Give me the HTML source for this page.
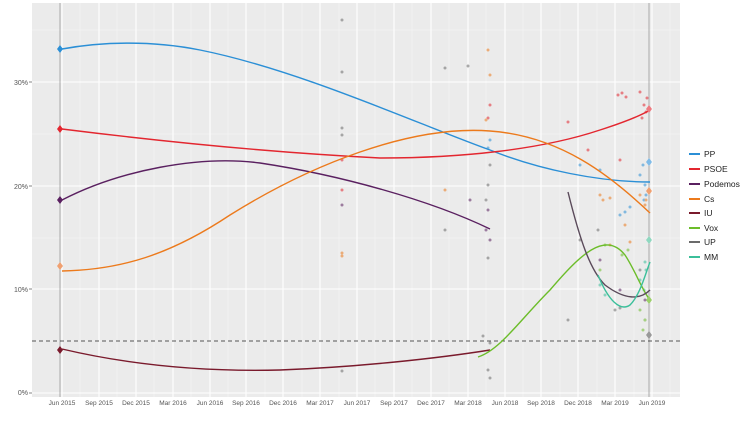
<!DOCTYPE html>
<html><head><meta charset="utf-8"><style>
body{margin:0;background:#fff;font-family:"Liberation Sans",sans-serif}
</style></head><body>
<svg width="750" height="417" viewBox="0 0 750 417" xmlns="http://www.w3.org/2000/svg" font-family="Liberation Sans, sans-serif">
<rect x="0" y="0" width="750" height="417" fill="#fff"/>
<rect x="32" y="3" width="648" height="394" fill="#ebebeb"/>
<g stroke="#f7f7f7" stroke-width="0.6">
<line x1="32" x2="680" y1="341" y2="341"/><line x1="32" x2="680" y1="238" y2="238"/><line x1="32" x2="680" y1="134" y2="134"/><line x1="32" x2="680" y1="30" y2="30"/>
<line x1="80" x2="80" y1="3" y2="397"/><line x1="117" x2="117" y1="3" y2="397"/><line x1="154" x2="154" y1="3" y2="397"/><line x1="191" x2="191" y1="3" y2="397"/><line x1="228" x2="228" y1="3" y2="397"/><line x1="265" x2="265" y1="3" y2="397"/><line x1="302" x2="302" y1="3" y2="397"/><line x1="339" x2="339" y1="3" y2="397"/><line x1="375" x2="375" y1="3" y2="397"/><line x1="412" x2="412" y1="3" y2="397"/><line x1="449" x2="449" y1="3" y2="397"/><line x1="486" x2="486" y1="3" y2="397"/><line x1="523" x2="523" y1="3" y2="397"/><line x1="560" x2="560" y1="3" y2="397"/><line x1="597" x2="597" y1="3" y2="397"/><line x1="634" x2="634" y1="3" y2="397"/><line x1="670" x2="670" y1="3" y2="397"/>
</g>
<g stroke="#fff" stroke-width="1.1">
<line x1="32" x2="680" y1="393" y2="393"/><line x1="32" x2="680" y1="289" y2="289"/><line x1="32" x2="680" y1="186" y2="186"/><line x1="32" x2="680" y1="82" y2="82"/>
<line x1="62" x2="62" y1="3" y2="397"/><line x1="99" x2="99" y1="3" y2="397"/><line x1="136" x2="136" y1="3" y2="397"/><line x1="173" x2="173" y1="3" y2="397"/><line x1="210" x2="210" y1="3" y2="397"/><line x1="246" x2="246" y1="3" y2="397"/><line x1="283" x2="283" y1="3" y2="397"/><line x1="320" x2="320" y1="3" y2="397"/><line x1="357" x2="357" y1="3" y2="397"/><line x1="394" x2="394" y1="3" y2="397"/><line x1="431" x2="431" y1="3" y2="397"/><line x1="468" x2="468" y1="3" y2="397"/><line x1="505" x2="505" y1="3" y2="397"/><line x1="541" x2="541" y1="3" y2="397"/><line x1="578" x2="578" y1="3" y2="397"/><line x1="615" x2="615" y1="3" y2="397"/><line x1="652" x2="652" y1="3" y2="397"/>
</g>
<line x1="60" x2="60" y1="3" y2="397" stroke="#aaa" stroke-width="1"/>
<line x1="649" x2="649" y1="3" y2="397" stroke="#aaa" stroke-width="1"/>
<line x1="32" x2="680" y1="341" y2="341" stroke="#222" stroke-dasharray="4,3" stroke-width="0.7"/>
<g opacity="0.55">
<g fill="#2b8fd6"><circle cx="490" cy="140" r="1.5"/><circle cx="488" cy="148" r="1.5"/><circle cx="580" cy="165" r="1.5"/><circle cx="600" cy="170" r="1.5"/><circle cx="620" cy="215" r="1.5"/><circle cx="625" cy="212" r="1.5"/><circle cx="640" cy="175" r="1.5"/><circle cx="643" cy="165" r="1.5"/><circle cx="645" cy="185" r="1.5"/><circle cx="646" cy="195" r="1.5"/><circle cx="644" cy="200" r="1.5"/><circle cx="630" cy="207" r="1.5"/></g>
<g fill="#e3262f"><circle cx="490" cy="105" r="1.5"/><circle cx="488" cy="118" r="1.5"/><circle cx="342" cy="160" r="1.5"/><circle cx="342" cy="190" r="1.5"/><circle cx="568" cy="122" r="1.5"/><circle cx="618" cy="95" r="1.5"/><circle cx="622" cy="93" r="1.5"/><circle cx="626" cy="97" r="1.5"/><circle cx="640" cy="92" r="1.5"/><circle cx="644" cy="105" r="1.5"/><circle cx="646" cy="112" r="1.5"/><circle cx="642" cy="118" r="1.5"/><circle cx="647" cy="98" r="1.5"/><circle cx="588" cy="150" r="1.5"/><circle cx="620" cy="160" r="1.5"/></g>
<g fill="#ec7a1c"><circle cx="342" cy="253" r="1.5"/><circle cx="342" cy="256" r="1.5"/><circle cx="488" cy="50" r="1.5"/><circle cx="490" cy="75" r="1.5"/><circle cx="486" cy="120" r="1.5"/><circle cx="445" cy="190" r="1.5"/><circle cx="600" cy="195" r="1.5"/><circle cx="603" cy="200" r="1.5"/><circle cx="610" cy="198" r="1.5"/><circle cx="625" cy="225" r="1.5"/><circle cx="630" cy="242" r="1.5"/><circle cx="640" cy="195" r="1.5"/><circle cx="645" cy="205" r="1.5"/><circle cx="646" cy="200" r="1.5"/><circle cx="610" cy="245" r="1.5"/></g>
<g fill="#5a2060"><circle cx="488" cy="210" r="1.5"/><circle cx="486" cy="230" r="1.5"/><circle cx="490" cy="240" r="1.5"/><circle cx="342" cy="205" r="1.5"/><circle cx="470" cy="200" r="1.5"/><circle cx="600" cy="260" r="1.5"/><circle cx="620" cy="290" r="1.5"/><circle cx="645" cy="300" r="1.5"/></g>
<g fill="#6b6b6b"><circle cx="342" cy="20" r="1.5"/><circle cx="342" cy="72" r="1.5"/><circle cx="342" cy="128" r="1.5"/><circle cx="342" cy="135" r="1.5"/><circle cx="445" cy="68" r="1.5"/><circle cx="468" cy="66" r="1.5"/><circle cx="490" cy="165" r="1.5"/><circle cx="488" cy="185" r="1.5"/><circle cx="486" cy="200" r="1.5"/><circle cx="445" cy="230" r="1.5"/><circle cx="488" cy="258" r="1.5"/><circle cx="342" cy="371" r="1.5"/><circle cx="483" cy="336" r="1.5"/><circle cx="490" cy="343" r="1.5"/><circle cx="488" cy="370" r="1.5"/><circle cx="490" cy="378" r="1.5"/><circle cx="568" cy="320" r="1.5"/><circle cx="580" cy="240" r="1.5"/><circle cx="615" cy="310" r="1.5"/><circle cx="620" cy="308" r="1.5"/><circle cx="640" cy="270" r="1.5"/><circle cx="645" cy="320" r="1.5"/><circle cx="598" cy="230" r="1.5"/></g>
<g fill="#6cbd2a"><circle cx="600" cy="270" r="1.5"/><circle cx="605" cy="245" r="1.5"/><circle cx="622" cy="255" r="1.5"/><circle cx="640" cy="310" r="1.5"/><circle cx="645" cy="320" r="1.5"/><circle cx="643" cy="330" r="1.5"/><circle cx="628" cy="250" r="1.5"/></g>
<g fill="#3bbf9a"><circle cx="600" cy="285" r="1.5"/><circle cx="605" cy="295" r="1.5"/><circle cx="640" cy="280" r="1.5"/><circle cx="645" cy="262" r="1.5"/><circle cx="646" cy="270" r="1.5"/><circle cx="644" cy="290" r="1.5"/></g>
</g>
<g fill="none" stroke-width="1.4">
<path d="M62,49 C100,42 150,40 200,50 C300,70 420,125 490,150 C540,170 600,182 650,182" stroke="#2b8fd6"/>
<path d="M62,129 C150,140 260,152 380,158 C460,158 540,150 600,130 C625,122 640,116 650,110" stroke="#e3262f"/>
<path d="M62,200 C120,170 200,155 260,163 C340,175 430,200 490,229" stroke="#5a2060"/>
<path d="M62,271 C120,270 170,255 230,215 C310,165 410,125 490,131 C560,136 610,175 650,213" stroke="#ec7a1c"/>
<path d="M62,349 C130,365 200,372 280,370 C360,367 440,358 490,350" stroke="#7a1a2c"/>
<path d="M478,357 C500,350 520,320 550,290 C580,255 605,230 625,255 C635,270 642,290 650,300" stroke="#6cbd2a"/>
<path d="M568,192 C580,240 590,270 605,285 C625,300 640,300 650,290" stroke="#5a4a5a"/>
<path d="M598,275 C608,300 620,312 630,305 C640,295 645,275 650,262" stroke="#3bbf9a"/>
</g>
<g>
<path d="M60,45 l3,4 l-3,4 l-3,-4z" fill="#2b8fd6"/>
<path d="M60,125 l3,4 l-3,4 l-3,-4z" fill="#e3262f"/>
<path d="M60,196 l3,4 l-3,4 l-3,-4z" fill="#5a2060"/>
<path d="M60,262 l3,4 l-3,4 l-3,-4z" fill="#f0a070"/>
<path d="M60,346 l3,4 l-3,4 l-3,-4z" fill="#7a1a2c"/>
<path d="M649,158 l3,4 l-3,4 l-3,-4z" fill="#7fbbe8"/>
<path d="M649,105 l3,4 l-3,4 l-3,-4z" fill="#ee7a80"/>
<path d="M649,187 l3,4 l-3,4 l-3,-4z" fill="#f0a070"/>
<path d="M649,236 l3,4 l-3,4 l-3,-4z" fill="#8fd8c0"/>
<path d="M649,296 l3,4 l-3,4 l-3,-4z" fill="#9bd06a"/>
<path d="M649,331 l3,4 l-3,4 l-3,-4z" fill="#999"/>
</g>
<g font-size="7" fill="#555" text-anchor="end">
<text x="28" y="395">0%</text><text x="28" y="292">10%</text><text x="28" y="189">20%</text><text x="28" y="85">30%</text>
</g>
<g stroke="#333" stroke-width="0.6">
<line x1="29" x2="32" y1="393" y2="393"/><line x1="29" x2="32" y1="289" y2="289"/><line x1="29" x2="32" y1="186" y2="186"/><line x1="29" x2="32" y1="82" y2="82"/>
</g>
<g font-size="6.5" fill="#555" text-anchor="middle">
<text x="62" y="405">Jun 2015</text><text x="99" y="405">Sep 2015</text><text x="136" y="405">Dec 2015</text><text x="173" y="405">Mar 2016</text><text x="210" y="405">Jun 2016</text><text x="246" y="405">Sep 2016</text><text x="283" y="405">Dec 2016</text><text x="320" y="405">Mar 2017</text><text x="357" y="405">Jun 2017</text><text x="394" y="405">Sep 2017</text><text x="431" y="405">Dec 2017</text><text x="468" y="405">Mar 2018</text><text x="505" y="405">Jun 2018</text><text x="541" y="405">Sep 2018</text><text x="578" y="405">Dec 2018</text><text x="615" y="405">Mar 2019</text><text x="652" y="405">Jun 2019</text>
</g>
<g stroke-width="2">
<line x1="689" x2="700" y1="154" y2="154" stroke="#2b8fd6"/>
<line x1="689" x2="700" y1="169" y2="169" stroke="#e3262f"/>
<line x1="689" x2="700" y1="184" y2="184" stroke="#5a2060"/>
<line x1="689" x2="700" y1="199" y2="199" stroke="#ec7a1c"/>
<line x1="689" x2="700" y1="213" y2="213" stroke="#7a1a2c"/>
<line x1="689" x2="700" y1="228" y2="228" stroke="#6cbd2a"/>
<line x1="689" x2="700" y1="242" y2="242" stroke="#6b6b6b"/>
<line x1="689" x2="700" y1="257" y2="257" stroke="#3bbf9a"/>
</g>
<g font-size="8.5" fill="#222">
<text x="704" y="157">PP</text><text x="704" y="172">PSOE</text><text x="704" y="187">Podemos</text><text x="704" y="202">Cs</text><text x="704" y="216">IU</text><text x="704" y="231">Vox</text><text x="704" y="245">UP</text><text x="704" y="260">MM</text>
</g>
</svg>
</body></html>
